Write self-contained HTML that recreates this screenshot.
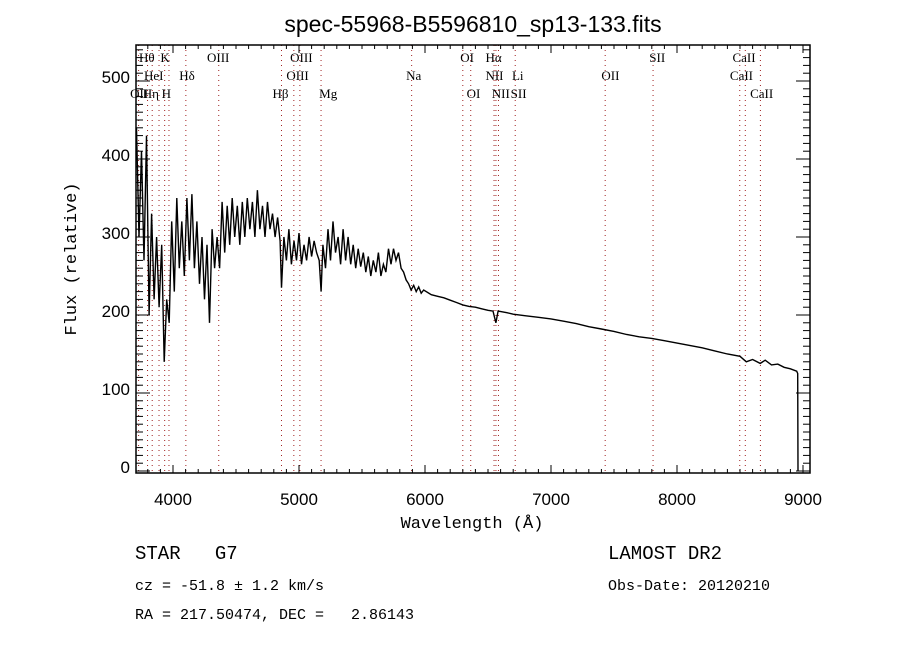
<!DOCTYPE html>
<html><head><meta charset="utf-8"><style>
body{margin:0;background:#fff;width:900px;height:650px;overflow:hidden}
svg text{font-family:"Liberation Serif",serif;fill:#000;white-space:pre}
.mono{font-family:"Liberation Mono",monospace}
</style></head><body>
<svg id="chart" width="900" height="650" xmlns="http://www.w3.org/2000/svg" xml:space="preserve">
<text x="473" y="32" text-anchor="middle" style="font-family:'Liberation Sans',sans-serif;font-size:23px">spec-55968-B5596810_sp13-133.fits</text>
<g id="lines"></g>
<g id="spec"></g>
<g id="axes"></g>
<text x="472" y="528" text-anchor="middle" class="mono" style="font-size:17px">Wavelength (Å)</text>
<text transform="translate(76,259) rotate(-90)" text-anchor="middle" class="mono" style="font-size:17px">Flux (relative)</text>
<text x="135" y="559" class="mono" style="font-size:19px">STAR   G7</text>
<text x="135" y="590" class="mono" style="font-size:15px">cz = -51.8 ± 1.2 km/s</text>
<text x="135" y="619" class="mono" style="font-size:15px">RA = 217.50474, DEC =   2.86143</text>
<text x="608" y="559" class="mono" style="font-size:19px">LAMOST DR2</text>
<text x="608" y="590" class="mono" style="font-size:15px">Obs-Date: 20120210</text>
</svg>
<script>
const wavelengths=[3710,3730,3750,3770,3790,3810,3830,3850,3870,3890,3910,3930,3950,3970,3990,4010,4030,4050,4070,4090,4110,4130,4150,4170,4190,4210,4230,4250,4270,4290,4310,4330,4350,4370,4390,4410,4430,4450,4470,4490,4510,4530,4550,4570,4590,4610,4630,4650,4670,4690,4710,4730,4750,4770,4790,4810,4830,4850,4861,4880,4900,4920,4940,4960,4980,5000,5020,5040,5060,5080,5100,5120,5140,5160,5175,5190,5210,5230,5250,5270,5290,5310,5330,5350,5370,5390,5410,5430,5450,5470,5490,5510,5530,5550,5570,5590,5610,5630,5650,5670,5690,5710,5730,5750,5770,5790,5810,5830,5850,5870,5890,5910,5930,5950,5970,5990,6050,6100,6150,6200,6250,6300,6350,6400,6450,6500,6540,6563,6580,6650,6700,6800,6900,7000,7100,7200,7300,7400,7500,7600,7700,7800,7900,8000,8100,8200,8300,8400,8500,8550,8600,8660,8700,8750,8800,8850,8900,8950,8958,8960];
const fluxes=[440,300,410,270,430,200,330,220,300,210,290,140,220,190,320,230,350,260,320,250,350,270,355,260,320,240,300,220,290,190,310,260,300,260,345,280,340,290,350,300,340,290,345,300,350,310,345,300,360,310,340,300,345,310,330,300,325,295,235,300,270,310,265,295,270,305,265,290,270,300,275,295,280,270,230,290,260,310,270,320,280,300,265,310,270,300,265,290,260,285,262,280,255,275,250,270,255,280,250,265,255,285,265,285,270,280,260,255,245,240,232,238,230,236,228,232,226,224,222,219,216,213,211,210,208,206,205,190,205,203,201,199,197,195,192,189,185,182,179,175,172,170,167,164,161,158,154,150,147,140,143,138,142,136,137,133,131,128,125,0];
const lineWl=[3727,3798,3835,3889,3934,3968,4102,4363,4861,4959,5007,5175,5894,6300,6363,6548,6563,6583,6716,7430,7810,8498,8542,8662];
const labelText=["Hθ","K","OIII","OIII","OI","Hα","SII","CaII","HeI","Hδ","OIII","Na","NII","Li","OII","CaII","OII","Hη","H","Hβ","Mg","OI","NII","SII","CaII"];
const labelWl=[3730,3900,4270,4930,6280,6480,7780,8440,3770,4050,4900,5850,6480,6690,7400,8420,3660,3760,3910,4790,5160,6330,6530,6680,8580];
const labelRow=[0,0,0,0,0,0,0,0,1,1,1,1,1,1,1,1,2,2,2,2,2,2,2,2,2];
const xTicks=[4000,5000,6000,7000,8000,9000];
const yTicks=[0,100,200,300,400,500];
const L=136,R=810,T=45,B=473;
const X=w=>173+(w-4000)*0.126;
const Y=f=>471-f*0.78;
const NS="http://www.w3.org/2000/svg";
function mk(tag,attrs,parent){const e=document.createElementNS(NS,tag);for(const k in attrs)e.setAttribute(k,attrs[k]);parent.appendChild(e);return e;}
const gl=document.getElementById('lines'),gs=document.getElementById('spec'),ga=document.getElementById('axes');
lineWl.forEach(w=>{const l=mk('line',{x1:X(w),x2:X(w),y1:T,y2:B,stroke:'#a02020','stroke-width':1,'stroke-dasharray':'1,4'},gl);

});
labelText.forEach((t,i)=>{const e=mk('text',{x:X(labelWl[i]),y:62+labelRow[i]*18,'font-size':'13'},gl);e.textContent=t;

});
let d='';wavelengths.forEach((w,i)=>{d+=(i?'L':'M')+X(w).toFixed(1)+','+Y(fluxes[i]).toFixed(1);});
const p=mk('path',{d:d,fill:'none',stroke:'#000','stroke-width':1.4},gs);


const fr=mk('rect',{x:L,y:T,width:R-L,height:B-T,fill:'none',stroke:'#000','stroke-width':1.5},ga);


for(let w=3800;w<=9000;w+=100){const maj=w%1000===0,len=maj?8:4;
mk('line',{x1:X(w),x2:X(w),y1:B,y2:B-len,stroke:'#000'},ga);mk('line',{x1:X(w),x2:X(w),y1:T,y2:T+len,stroke:'#000'},ga);}
for(let f=0;f<=540;f+=10){const maj=f%100===0,len=maj?14:7;
mk('line',{x1:L,x2:L+len,y1:Y(f),y2:Y(f),stroke:'#000'},ga);mk('line',{x1:R,x2:R-len,y1:Y(f),y2:Y(f),stroke:'#000'},ga);}
xTicks.forEach(w=>{const e=mk('text',{x:X(w),y:505,'text-anchor':'middle','font-size':'17',style:"font-family:'Liberation Sans',sans-serif"},ga);e.textContent=w;

});
yTicks.forEach(f=>{const e=mk('text',{x:130,y:Y(f)+2,'text-anchor':'end','font-size':'17',style:"font-family:'Liberation Sans',sans-serif"},ga);e.textContent=f;

});
</script>
</body></html>
